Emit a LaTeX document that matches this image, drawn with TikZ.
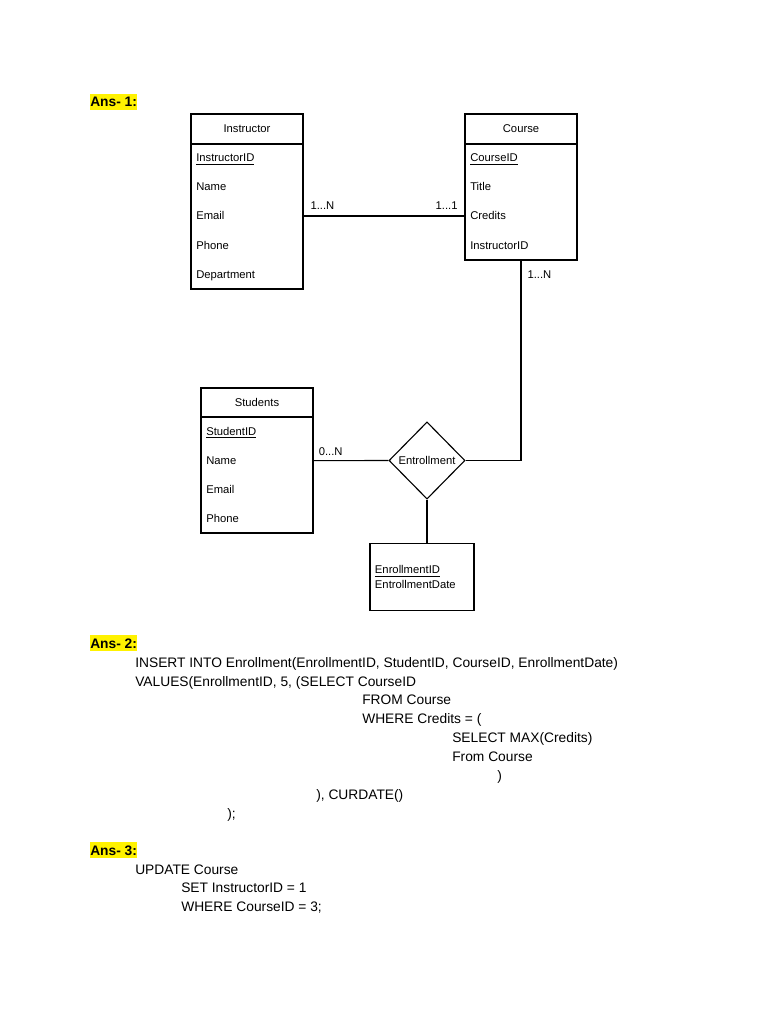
\documentclass[tikz,border=0pt]{standalone}
\usepackage{fontspec}
\setmainfont{Liberation Sans}
\usetikzlibrary{positioning, shapes.geometric}
\newcommand{\erfont}{\fontsize{8}{10.3}\selectfont}
\newcommand{\sqlfont}{\fontsize{9.8}{12}\selectfont}
\tikzset{
	entity/.style={
		draw,
		line width=0.8pt,
		outer sep=0pt,
		minimum width=2.8cm,
		minimum height=0.75cm,
		font=\erfont
	},
	entitybody/.style={
		draw,
		line width=0.8pt,
		outer sep=0pt,
		minimum width=2.8cm
	},
	attr/.style={anchor=base west, inner sep=0pt, font=\erfont},
	relation/.style={
		diamond,
		draw,
		line width=0.8pt,
		aspect=1,
		inner sep=0pt,
		minimum width=1.9cm,
		minimum height=1.93cm,
		font=\erfont
	},
	card/.style={inner sep=0pt, font=\erfont},
	link/.style={line width=0.8pt},
	ans/.style={anchor=base west, fill=yellow, inner sep=0pt, text height=9.1pt, text depth=2.45pt, font=\sqlfont\bfseries},
	sql/.style={anchor=base west, inner sep=0pt, font=\sqlfont}
}

\begin{document}
\begin{tikzpicture}[x=0.025cm, y=-0.025cm]
		\useasboundingbox (0,0) rectangle (768,1024);
		
		% Ans- 1
		\node[ans] (ans1) at (90,106.5) {Ans- 1:};
		
		% Instructor
		\node[entity] (Instr) at (247,129) {Instructor};
		\node[entitybody, below=0pt of Instr, minimum height=3.625cm] (InstrBody) {};
		\node[attr] (IID) at (196,162) {\underline{InstructorID}};
		\node[attr] (IName) at (196,191) {Name};
		\node[attr] (IEmail) at (196,220) {Email};
		\node[attr] (IPhone) at (196,249) {Phone};
		\node[attr] (IDept) at (196,278) {Department};
		
		% Course
		\node[entity] (Course) at (521,129) {Course};
		\node[entitybody, below=0pt of Course, minimum height=2.9cm] (CourseBody) {};
		\node[attr] (CID) at (470,162) {\underline{CourseID}};
		\node[attr] (CTitle) at (470,191) {Title};
		\node[attr] (CCredits) at (470,220) {Credits};
		\node[attr] (CInstr) at (470,249) {InstructorID};
		
		% Students
		\node[entity, minimum height=0.725cm] (Stud) at (257,402.5) {Students};
		\node[entitybody, below=0pt of Stud, minimum height=2.9cm] (StudBody) {};
		\node[attr] (SID) at (206,435.5) {\underline{StudentID}};
		\node[attr] (SName) at (206,464.5) {Name};
		\node[attr] (SEmail) at (206,493.5) {Email};
		\node[attr] (SPhone) at (206,522.5) {Phone};
		
		% Relation
		\node[relation] (Enroll) at (427,460.5) {Entrollment};
		\node[entitybody, minimum width=2.6cm, minimum height=1.675cm, text width=2.35cm, inner xsep=0.125cm, align=left, font=\erfont] (EnrAttr) at (422,577) {\underline{EnrollmentID}\\EntrollmentDate};
		
		% Liaisons
		\draw[link] (IEmail.center -| InstrBody.east) -- (CCredits.center -| CourseBody.west)
			node[card, pos=0, anchor=base west, xshift=0.175cm, yshift=0.15cm] (cardIN) {1...N}
			node[card, pos=1, anchor=base east, xshift=-0.17cm, yshift=0.15cm] (cardC1) {1...1};
		\draw[link] (CourseBody.south) |- (Enroll.east)
			node[card, pos=0, anchor=base west, xshift=0.15cm, yshift=-0.45cm] (cardCN) {1...N};
		\draw[link] (SName.center -| StudBody.east) -- (Enroll.west)
			node[card, pos=0, anchor=base west, xshift=0.13cm, yshift=0.125cm] (cardS0) {0...N};
		\draw[link] (Enroll.south) -- (Enroll.south |- EnrAttr.north);
		
		% Ans- 2
		\node[ans] (ans2) at (90,648) {Ans- 2:};
		\node[sql] (q1) at (135,667) {INSERT INTO Enrollment(EnrollmentID, StudentID, CourseID, EnrollmentDate)};
		\node[sql] (q2) at (135,686) {VALUES(EnrollmentID, 5, (SELECT CourseID};
		\node[sql] (q3) at (362,704) {FROM Course};
		\node[sql] (q4) at (362,723) {WHERE Credits = (};
		\node[sql] (q5) at (452,742) {SELECT MAX(Credits)};
		\node[sql] (q6) at (452,761) {From Course};
		\node[sql] (q7) at (497,780) {)};
		\node[sql] (q8) at (316,799) {), CURDATE()};
		\node[sql] (q9) at (227,818) {);};
		
		% Ans- 3
		\node[ans] (ans3) at (90,855) {Ans- 3:};
		\node[sql] (u1) at (135,874) {UPDATE Course};
		\node[sql] (u2) at (181,892) {SET InstructorID = 1};
		\node[sql] (u3) at (181,911) {WHERE CourseID = 3;};
		
	\end{tikzpicture}
\end{document}
